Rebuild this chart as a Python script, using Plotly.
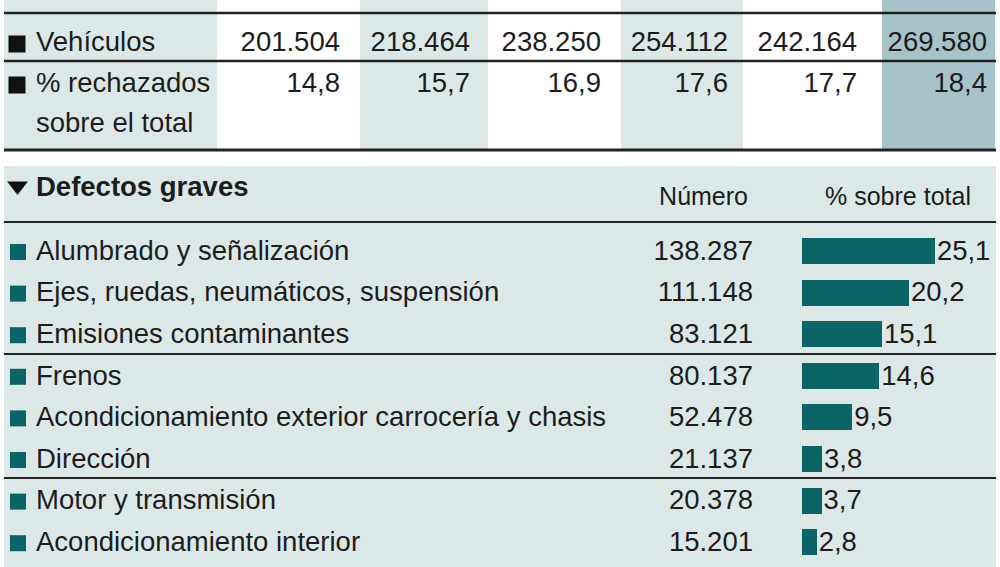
import plotly.graph_objects as go

# --- datos ---
top_labels = ["Vehículos", "% rechazados<br>sobre el total"]
vehiculos = ["201.504", "218.464", "238.250", "254.112", "242.164", "269.580"]
rechazados = ["14,8", "15,7", "16,9", "17,6", "17,7", "18,4"]

defectos = [
    "Alumbrado y señalización",
    "Ejes, ruedas, neumáticos, suspensión",
    "Emisiones contaminantes",
    "Frenos",
    "Acondicionamiento exterior carrocería y chasis",
    "Dirección",
    "Motor y transmisión",
    "Acondicionamiento interior",
]
numero = [138287, 111148, 83121, 80137, 52478, 21137, 20378, 15201]
pct_total = [25.1, 20.2, 15.1, 14.6, 9.5, 3.8, 3.7, 2.8]

# --- estilo / maquetación ---
FONT = "Liberation Sans"
FS = 27.5
TXT = "#1c1c1c"
LIGHT = "#dce8e7"
DARK = "#a5c3c8"
TEAL = "#0b6466"
W, H = 1000, 567

col_edges = [4, 217, 360, 488, 621, 743, 882, 995]
col_fill = [LIGHT, "white", LIGHT, "white", LIGHT, "white", DARK]
col_text_x = [340, 470, 601, 728, 857, 987]
top_row_y = [44, 85]
line_gap = 40

row0, row_step = 253, 41.6
row_y = [row0 + i * row_step for i in range(len(defectos))]

bar_x0 = 802
px_per_unit = 5.3


def fmt_pct(v):
    return f"{v:.1f}".replace(".", ",")


def fmt_num(v):
    return f"{v:,}".replace(",", ".")


fig = go.Figure()

shapes = []
# columnas de la tabla superior
for i, c in enumerate(col_fill):
    shapes.append(dict(type="rect", xref="x", yref="y", x0=col_edges[i], x1=col_edges[i + 1],
                       y0=0, y1=150, fillcolor=c, line_width=0, layer="below"))
# panel inferior
shapes.append(dict(type="rect", xref="x", yref="y", x0=4, x1=996, y0=166, y1=567,
                   fillcolor=LIGHT, line_width=0, layer="below"))
for yy, lw in [(13, 2.5), (61, 2.5), (150, 3), (222, 2), (354, 2), (478, 2)]:
    shapes.append(dict(type="line", xref="x", yref="y", x0=4, x1=996, y0=yy, y1=yy,
                       line=dict(color="#222", width=lw)))

# tabla superior: etiquetas
lab_x, lab_y, lab_t = [], [], []
for yy, lab in zip(top_row_y, top_labels):
    for k, part in enumerate(lab.split("<br>")):
        lab_x.append(36)
        lab_y.append(yy + k * line_gap)
        lab_t.append(part)
fig.add_trace(go.Scatter(x=lab_x, y=lab_y, text=lab_t, mode="text", textposition="middle right",
                         textfont=dict(family=FONT, size=FS, color=TXT), cliponaxis=False,
                         hoverinfo="skip"))
fig.add_trace(go.Scatter(x=[17] * len(top_row_y), y=top_row_y, mode="markers",
                         marker=dict(symbol="square", size=17, color="#111"), hoverinfo="skip"))

# tabla superior: valores
for vals, yy in [(vehiculos, top_row_y[0]), (rechazados, top_row_y[1])]:
    fig.add_trace(go.Scatter(x=col_text_x, y=[yy] * len(vals), text=vals, mode="text",
                             textposition="middle left",
                             textfont=dict(family=FONT, size=FS, color=TXT), cliponaxis=False,
                             hoverinfo="skip"))

# panel inferior: cabecera
fig.add_trace(go.Scatter(x=[17.5], y=[186], mode="markers",
                         marker=dict(symbol="triangle-down", size=18, color="#111"), hoverinfo="skip"))
fig.add_trace(go.Scatter(x=[36], y=[189], text=["<b>Defectos graves</b>"], mode="text",
                         textposition="middle right",
                         textfont=dict(family=FONT, size=FS, color=TXT), cliponaxis=False,
                         hoverinfo="skip"))
fig.add_trace(go.Scatter(x=[748, 898], y=[199, 199], text=["Número", "% sobre total"], mode="text",
                         textposition=["middle left", "middle center"],
                         textfont=dict(family=FONT, size=25, color=TXT), cliponaxis=False,
                         hoverinfo="skip"))

# panel inferior: filas
fig.add_trace(go.Scatter(x=[18] * len(row_y), y=[y - 1 for y in row_y], mode="markers",
                         marker=dict(symbol="square", size=16, color=TEAL), hoverinfo="skip"))
fig.add_trace(go.Scatter(x=[36] * len(row_y), y=row_y, text=defectos, mode="text",
                         textposition="middle right",
                         textfont=dict(family=FONT, size=FS, color=TXT), cliponaxis=False,
                         hoverinfo="skip"))
fig.add_trace(go.Scatter(x=[753] * len(row_y), y=row_y, text=[fmt_num(v) for v in numero],
                         mode="text", textposition="middle left",
                         textfont=dict(family=FONT, size=FS, color=TXT), cliponaxis=False,
                         hoverinfo="skip"))

# barras % sobre total
fig.add_trace(go.Bar(x=pct_total, y=[y - 2 for y in row_y], orientation="h", width=26,
                     xaxis="x2", yaxis="y",
                     marker=dict(color=TEAL, line_width=0), hoverinfo="skip"))
fig.add_trace(go.Scatter(x=[v + 0.35 for v in pct_total], y=row_y,
                         text=[fmt_pct(v) for v in pct_total], mode="text",
                         textposition="middle right", xaxis="x2", yaxis="y",
                         textfont=dict(family=FONT, size=FS, color=TXT), cliponaxis=False,
                         hoverinfo="skip"))

ax_off = dict(visible=False, showgrid=False, zeroline=False, fixedrange=True)
fig.update_layout(
    width=W, height=H,
    margin=dict(l=0, r=0, t=0, b=0),
    paper_bgcolor="white", plot_bgcolor="rgba(0,0,0,0)",
    showlegend=False,
    shapes=shapes,
    xaxis=dict(range=[0, W], domain=[0, 1], **ax_off),
    yaxis=dict(range=[H, 0], domain=[0, 1], **ax_off),
    xaxis2=dict(range=[0, (W - bar_x0) / px_per_unit], domain=[bar_x0 / W, 1],
                anchor="y", **ax_off),
    bargap=0,
)

fig.write_html("out.html", config={"displayModeBar": False},
               post_script="document.body.style.margin='0';")
